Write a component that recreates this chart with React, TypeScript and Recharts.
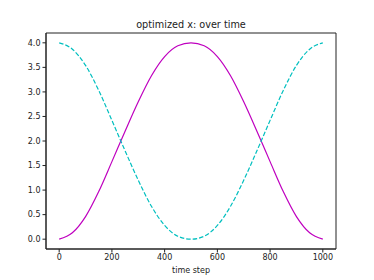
import React from 'react';
import { LineChart, Line, XAxis, YAxis, ReferenceArea } from 'recharts';

const steps = [0, 50, 100, 150, 200, 250, 300, 350, 400, 450, 500, 550, 600, 650, 700, 750, 800, 850, 900, 950, 1000];
const risingX = [0, 0.13, 0.46, 0.97, 1.58, 2.2, 2.8, 3.33, 3.72, 3.94, 4.0, 3.94, 3.72, 3.33, 2.8, 2.2, 1.58, 0.97, 0.46, 0.13, 0];
const fallingX = [4.0, 3.87, 3.54, 3.03, 2.42, 1.8, 1.2, 0.67, 0.28, 0.06, 0, 0.06, 0.28, 0.67, 1.2, 1.8, 2.42, 3.03, 3.54, 3.87, 4.0];
const xTicks = [0, 200, 400, 600, 800, 1000];
const yTicks = [0, 0.5, 1, 1.5, 2, 2.5, 3, 3.5, 4];

const data = steps.map((t, i) => ({ t, a: risingX[i], b: fallingX[i] }));

const font = 'DejaVu Sans, sans-serif';
const tickStyle = { fill: '#222', fontSize: 8, fontFamily: font };

export default function App() {
  return (
    <div style={{ position: 'absolute', left: 0, top: 0, width: 374, height: 280, background: '#fff' }}>
      <div
        style={{
          position: 'absolute',
          left: 46,
          width: 290,
          top: 19,
          textAlign: 'center',
          fontFamily: font,
          fontSize: 9.7,
          color: '#222',
          lineHeight: '12px',
        }}
      >
        optimized x: over time
      </div>
      <LineChart width={374} height={280} data={data} margin={{ top: 33, right: 38, bottom: 0, left: 6 }}>
        <XAxis
          dataKey="t"
          type="number"
          domain={[-50, 1050]}
          ticks={xTicks}
          tickSize={3.5}
          tick={tickStyle}
          stroke="#222"
          height={31}
          label={{ value: 'time step', position: 'insideBottom', offset: 7, style: { fill: '#222', fontSize: 8, fontFamily: font } }}
        />
        <YAxis
          type="number"
          domain={[-0.2, 4.2]}
          ticks={yTicks}
          tickFormatter={(v: number) => v.toFixed(1)}
          tickSize={3.5}
          tick={tickStyle}
          stroke="#222"
          width={40}
        />
        <ReferenceArea x1={-50} x2={1050} y1={-0.2} y2={4.2} fill="none" stroke="#222" strokeWidth={1} />
        <Line
          type="monotone"
          dataKey="a"
          stroke="#bf00bf"
          strokeWidth={1.2}
          dot={false}
          isAnimationActive={false}
        />
        <Line
          type="monotone"
          dataKey="b"
          stroke="#00bfbf"
          strokeWidth={1.2}
          strokeDasharray="4.5 2"
          dot={false}
          isAnimationActive={false}
        />
      </LineChart>
    </div>
  );
}
